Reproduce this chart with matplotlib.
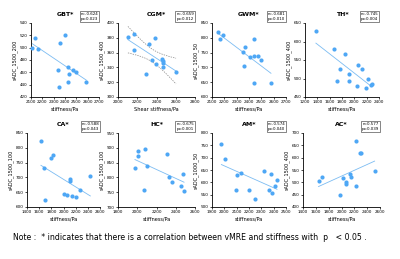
import matplotlib
matplotlib.use("Agg")
import matplotlib.pyplot as plt
import numpy as np

# ---- data ----
titles = ["GBT*", "CGM*", "GWM*", "TH*", "CA*", "HC*", "AM*", "AC*"]
ylabels = ["sADC_1500_200", "sADC_1500_400", "sADC_1500_50", "sADC_1500_400",
           "sADC_1500_100", "sADC_1500_100", "sADC_1000_50", "sADC_1500_400"]
xlabels = ["stiffness/Pa", "Shear stiffness/Pa", "stiffness/Pa", "stiffness/Pa",
           "stiffness/Pa", "stiffness/Pa", "stiffness/Pa", "stiffness/Pa"]
stats_txt = ["r=-0.624\np=0.023", "r=-0.659\np=0.012", "r=-0.681\np=0.010",
             "r=-0.745\np=0.004", "r=-0.588\np=0.043", "r=-0.675\np=0.001",
             "r=-0.574\np=0.040", "r=0.577\np=0.039"]

gbt_x = [2112, 2138, 2162, 2403, 2359, 2335, 2347, 2429, 2435, 2468, 2497, 2429, 2588]
gbt_y = [499, 516, 498, 521, 507, 464, 437, 468, 457, 463, 460, 445, 445]
cgm_x = [2103, 2162, 2169, 2321, 2386, 2352, 2397, 2462, 2472, 2472, 2466, 2290, 2603]
cgm_y = [381, 385, 364, 371, 380, 350, 344, 351, 349, 346, 340, 331, 334]
gwm_x = [2146, 2168, 2186, 2349, 2370, 2357, 2411, 2438, 2443, 2476, 2495, 2438, 2578]
gwm_y = [820, 797, 809, 752, 770, 706, 736, 797, 737, 737, 725, 646, 647]
th_x = [1377, 1678, 1845, 1764, 1711, 1921, 1910, 2066, 2125, 2049, 2227, 2183, 2280, 2265]
th_y = [629, 580, 565, 526, 492, 511, 494, 536, 525, 481, 499, 475, 486, 483]
ca_x = [1629, 1682, 1703, 1788, 1825, 2000, 2064, 2106, 2112, 2133, 2207, 2266, 2441]
ca_y = [824, 732, 622, 764, 774, 645, 642, 696, 687, 638, 635, 657, 705]
hc_x = [1976, 2007, 2010, 2079, 2097, 2066, 2314, 2331, 2359, 2452, 2472, 2486]
hc_y = [831, 873, 889, 896, 839, 758, 880, 800, 783, 770, 811, 753]
am_x = [1976, 2005, 2103, 2097, 2138, 2197, 2249, 2319, 2365, 2381, 2384, 2408, 2427]
am_y = [754, 696, 629, 569, 639, 569, 531, 647, 570, 634, 557, 586, 609]
ac_x = [1642, 1700, 2026, 2068, 2074, 2126, 2142, 1979, 2232, 2226, 2295, 2310, 2516]
ac_y = [507, 522, 518, 502, 493, 535, 522, 448, 485, 668, 619, 619, 547]

xs = [gbt_x, cgm_x, gwm_x, th_x, ca_x, hc_x, am_x, ac_x]
ys = [gbt_y, cgm_y, gwm_y, th_y, ca_y, hc_y, am_y, ac_y]

xlims = [(2100, 2700), (2000, 2800), (2100, 2700), (1200, 2400),
         (1400, 2600), (1800, 2600), (1900, 2500), (1400, 2600)]
xstep = [100, 200, 100, 200, 200, 200, 100, 200]
ylims = [(420, 540), (300, 400), (600, 850), (450, 650),
         (600, 850), (700, 950), (500, 800), (400, 700)]
ystep = [20, 20, 50, 50, 50, 50, 50, 50]

# axes boxes in pixels (left, right, top, bottom)
boxes = [(31, 99, 23, 97), (118, 195, 23, 97), (212, 286, 23, 97), (305, 379, 23, 97),
         (27, 100, 133, 207), (118, 195, 133, 207), (212, 286, 133, 207), (303, 380, 133, 207)]

W, H = 400, 259
dot = "#4ea7f5"
line_c = "#7cbcf2"

fig = plt.figure(figsize=(W / 100, H / 100), dpi=100)

for i in range(8):
    l, r, t, b = boxes[i]
    ax = fig.add_axes([l / W, 1 - b / H, (r - l) / W, (b - t) / H])
    x = np.array(xs[i], dtype=float)
    y = np.array(ys[i], dtype=float)
    ax.scatter(x, y, s=9, color=dot, linewidths=0, zorder=3, clip_on=False)

    k, c = np.polyfit(x, y, 1)
    xx = np.linspace(x.min(), x.max(), 50)
    ax.plot(xx, k * xx + c, color=line_c, lw=0.6, zorder=2)
    if i == 1:
        # 95% confidence band
        n = len(x)
        res = y - (k * x + c)
        s = np.sqrt(np.sum(res ** 2) / (n - 2))
        se = s * np.sqrt(1 / n + (xx - x.mean()) ** 2 / np.sum((x - x.mean()) ** 2))
        ax.plot(xx, k * xx + c + 2.2 * se, color="#888888", lw=0.5, ls=(0, (2, 1.5)))
        ax.plot(xx, k * xx + c - 2.2 * se, color="#888888", lw=0.5, ls=(0, (2, 1.5)))

    ax.set_xlim(*xlims[i])
    ax.set_ylim(*ylims[i])
    ax.set_xticks(np.arange(xlims[i][0], xlims[i][1] + 1, xstep[i]))
    ax.set_yticks(np.arange(ylims[i][0], ylims[i][1] + 1, ystep[i]))
    for sp in ["top", "right"]:
        ax.spines[sp].set_visible(False)
    for sp in ["left", "bottom"]:
        ax.spines[sp].set_linewidth(0.6)
    ax.tick_params(labelsize=3.0, length=1.5, width=0.5, pad=1)
    ax.set_xlabel(xlabels[i], fontsize=3.6, labelpad=1.5)
    ax.set_ylabel(ylabels[i], fontsize=3.6, labelpad=1.5)
    ax.set_title(titles[i], fontsize=4.5, fontweight="bold", pad=5)
    ax.text(0.99, 1.03, stats_txt[i], transform=ax.transAxes, fontsize=2.9,
            ha="right", va="bottom", linespacing=1.1,
            bbox=dict(boxstyle="square,pad=0.25", fc="white", ec="#555555", lw=0.5))

fig.text(13 / W, 1 - 238 / H,
         "Note :  * indicates that there is a correlation between vMRE and stiffness with  p   < 0.05 .",
         fontsize=5.6, ha="left", va="center")

fig.savefig("out.png", dpi=100)
